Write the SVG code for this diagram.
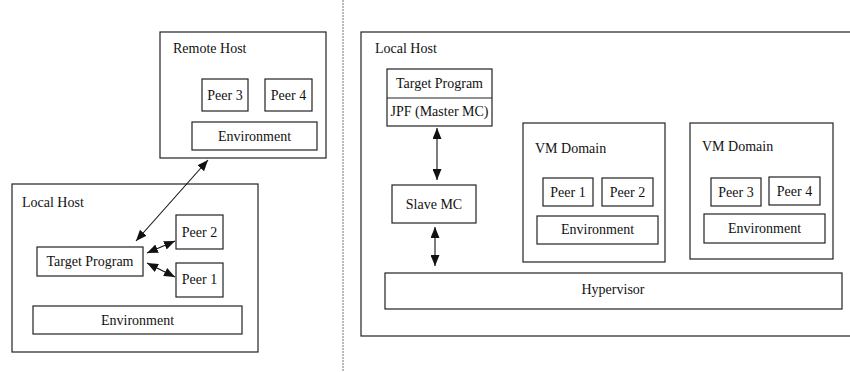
<svg xmlns="http://www.w3.org/2000/svg" width="850" height="372" viewBox="0 0 850 372" font-family="'Liberation Serif', 'Times New Roman', Times, serif">
<style>
rect{fill:#fff;stroke:#222;stroke-width:1.2}
text{font-family:'Liberation Serif','Times New Roman',Times,serif;font-size:14px;fill:#111}
.c{text-anchor:middle}
.conn line{stroke:#111;stroke-width:1.1}
</style>
<defs>
<marker id="ah" viewBox="0 0 11 9" refX="11" refY="4.5" markerWidth="11" markerHeight="9" markerUnits="userSpaceOnUse" orient="auto-start-reverse">
<path d="M0,0 L11,4.5 L0,9 Z" fill="#111"/>
</marker>
</defs>
<line x1="343" y1="0" x2="343" y2="372" stroke="#777" stroke-width="1" stroke-dasharray="2,1"/>

<g id="remote-host">
<rect x="160" y="32" width="166" height="126"/>
<text x="173" y="53">Remote Host</text>
</g>
<g id="remote-peer3"><rect x="202" y="79" width="46" height="32"/><text class="c" x="225" y="100">Peer 3</text></g>
<g id="remote-peer4"><rect x="265" y="79" width="47" height="32"/><text class="c" x="288.5" y="100">Peer 4</text></g>
<g id="remote-env"><rect x="192" y="122" width="125" height="28"/><text class="c" x="254.5" y="141">Environment</text></g>

<g id="local-host-left">
<rect x="12" y="184" width="246" height="168"/>
<text x="22" y="207">Local Host</text>
</g>
<g id="left-target"><rect x="37" y="247" width="106" height="29"/><text class="c" x="90" y="266">Target Program</text></g>
<g id="left-peer2"><rect x="176" y="215" width="47" height="34"/><text class="c" x="199.5" y="237">Peer 2</text></g>
<g id="left-peer1"><rect x="176" y="263" width="47" height="34"/><text class="c" x="199.5" y="284">Peer 1</text></g>
<g id="left-env"><rect x="33" y="306" width="209" height="28"/><text class="c" x="137.5" y="325">Environment</text></g>

<g id="local-host-right">
<rect x="361" y="32" width="500" height="304"/>
<text x="375" y="53">Local Host</text>
</g>
<g id="jpf-stack">
<rect x="387" y="69" width="105" height="57"/>
<line x1="387" y1="98" x2="492" y2="98" stroke="#222" stroke-width="1.2"/>
<text class="c" x="439.5" y="88">Target Program</text>
<text class="c" x="439.5" y="116">JPF (Master MC)</text>
</g>
<g id="slave-mc"><rect x="392" y="185" width="84" height="38"/><text class="c" x="434" y="209">Slave MC</text></g>
<g id="hypervisor"><rect x="385" y="273" width="457" height="36"/><text class="c" x="613" y="294">Hypervisor</text></g>

<g id="vm-domain-1">
<rect x="523" y="123" width="142" height="139"/>
<text x="535" y="153">VM Domain</text>
</g>
<g id="vm1-peer1"><rect x="543" y="178" width="50" height="28"/><text class="c" x="568" y="197">Peer 1</text></g>
<g id="vm1-peer2"><rect x="602" y="178" width="51" height="28"/><text class="c" x="627.5" y="197">Peer 2</text></g>
<g id="vm1-env"><rect x="537" y="216" width="121" height="28"/><text class="c" x="597.5" y="234">Environment</text></g>

<g id="vm-domain-2">
<rect x="690" y="123" width="143" height="136"/>
<text x="702" y="151">VM Domain</text>
</g>
<g id="vm2-peer3"><rect x="711" y="178" width="50" height="28"/><text class="c" x="736" y="197">Peer 3</text></g>
<g id="vm2-peer4"><rect x="769" y="177" width="51" height="28"/><text class="c" x="794.5" y="196">Peer 4</text></g>
<g id="vm2-env"><rect x="704" y="214" width="121" height="29"/><text class="c" x="764.5" y="233">Environment</text></g>

<g id="connectors" class="conn">
<line x1="208" y1="160" x2="136" y2="241" marker-start="url(#ah)" marker-end="url(#ah)"/>
<line x1="147" y1="253" x2="175" y2="241" marker-start="url(#ah)" marker-end="url(#ah)"/>
<line x1="147" y1="263" x2="175" y2="277" marker-start="url(#ah)" marker-end="url(#ah)"/>
<line x1="437" y1="128" x2="437" y2="180" marker-start="url(#ah)" marker-end="url(#ah)"/>
<line x1="435" y1="227" x2="435" y2="266" marker-start="url(#ah)" marker-end="url(#ah)"/>
</g>
</svg>
